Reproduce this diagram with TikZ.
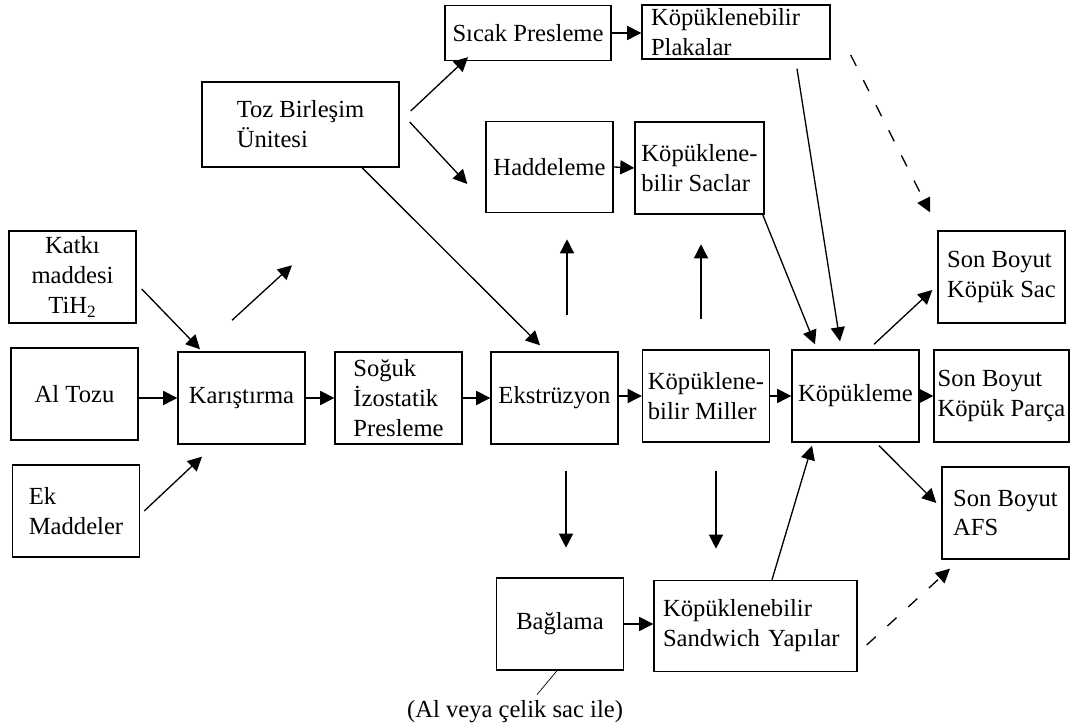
\documentclass[tikz,border=0pt]{standalone}
\usepackage{fontspec}
\setmainfont{Liberation Serif}
\usetikzlibrary{arrows.meta}

\begin{document}
\begin{tikzpicture}[
	box/.style={draw, thick, minimum width=2.54cm, minimum height=1.84cm, align=center, inner sep=2pt, font=\fontsize{14}{17}\selectfont},
	arr/.style={line width=0.75pt, -{Triangle[length=8pt, width=8pt]}},
	dsh/.style={arr, dash pattern=on 7pt off 9pt}]
	\useasboundingbox (0,0) rectangle (21.7,14.56);
	\node[box] (katki) at (1.45,9.02) {Katkı\\maddesi\\TiH\textsubscript{2}};
	\node[box] (altozu) at (1.49,6.68) {Al Tozu};
	\node[box, align=left] (ek) at (1.52,4.34) {Ek\\Maddeler};
	\node[box] (karis) at (4.83,6.60) {Karıştırma};
	\node[box, align=left] (soguk) at (7.97,6.60) {Soğuk\\İzostatik\\Presleme};
	\node[box] (ekstr) at (11.09,6.60) {Ekstrüzyon};
	\node[box, align=left] (miller) at (14.12,6.64) {Köpüklene-\\bilir Miller};
	\node[box] (kopuk) at (17.11,6.64) {Köpükleme};
	\node[box, align=left] (sac) at (20.03,9.02) {Son Boyut\\Köpük Sac};
	\node[box, align=left] (parca) at (20.03,6.64) {Son Boyut\\Köpük Parça};
	\node[box, align=left] (afs) at (20.11,4.30) {Son Boyut\\AFS};
	\node[box, align=left, minimum width=3.94cm, minimum height=1.7cm] (toz) at (6.01,12.07) {Toz Birleşim\\Ünitesi};
	\node[box, minimum width=3.32cm, minimum height=1.1cm] (sicak) at (10.56,13.90) {Sıcak Presleme};
	\node[box, align=left, minimum width=3.76cm, minimum height=1.08cm, inner ysep=0pt, text width=3.4cm] (plaka) at (14.72,13.92) {Köpüklenebilir\\Plakalar};
	\node[box, minimum height=1.82cm] (hadde) at (10.99,11.22) {Haddeleme};
	\node[box, align=left, minimum width=2.58cm] (saclar) at (13.99,11.2) {Köpüklene-\\bilir Saclar};
	\node[box] (baglama) at (11.2,2.08) {Bağlama};
	\node[box, align=left, minimum width=4.06cm, minimum height=1.82cm, text width=3.7cm] (sandwich) at (15.11,2.04) {Köpüklenebilir\\Sandwich Yapılar};
	\node[font=\fontsize{14}{17}\selectfont] (ilave) at (10.3,0.32) {(Al veya çelik sac ile)};

	\draw[arr] ([shift={(0.1,-0.24)}]katki.east) -- ([shift={(-0.83,0.04)}]karis.north);
	\draw[arr] (altozu.east |- karis.west) -- (karis.west);
	\draw[arr] ([xshift=0.08cm]ek.east) -- ([shift={(-0.79,-0.24)}]karis.south);
	\draw[arr] ([shift={(-0.19,0.62)}]karis.north) -- ([shift={(1.01,1.72)}]karis.north);
	\draw[arr] (karis.east) -- (soguk.west);
	\draw[arr] (soguk.east) -- (ekstr.west);
	\draw[arr] ([xshift=1.23cm]toz.south) -- ([shift={(-0.29,0.12)}]ekstr.north);
	\draw[arr] ([shift={(0.22,0.27)}]toz.east) -- ([shift={(-1.2,0.08)}]sicak.south);
	\draw[arr] ([shift={(0.2,0.05)}]toz.east) -- ([shift={(-0.36,-0.34)}]hadde.west);
	\draw[arr] (sicak.east) -- (plaka.west |- sicak.east);
	\draw[arr] (hadde.east) -- (saclar.west);
	\draw[arr] ([shift={(0.25,0.72)}]ekstr.north) -- ([shift={(0.25,2.24)}]ekstr.north);
	\draw[arr] ([shift={(0.23,-0.52)}]ekstr.south) -- ([shift={(0.23,-2.06)}]ekstr.south);
	\draw[arr] (ekstr.east |- miller.west) -- (miller.west);
	\draw[arr] ([shift={(-0.1,0.6)}]miller.north) -- ([shift={(-0.1,2.1)}]miller.north);
	\draw[arr] ([shift={(0.2,-0.56)}]miller.south) -- ([shift={(0.2,-2.12)}]miller.south);
	\draw[arr] (miller.east) -- (kopuk.west);
	\draw[arr] ([xshift=-0.04cm]saclar.south east) -- ([shift={(-0.81,0.1)}]kopuk.north);
	\draw[arr] ([shift={(1.22,-0.18)}]plaka.south) -- ([shift={(-0.31,0.16)}]kopuk.north);
	\draw[dsh] ([shift={(0.4,-0.46)}]plaka.east) -- ([shift={(-1.43,0.36)}]sac.north);
	\draw[arr] ([shift={(0.37,0.1)}]kopuk.north) -- ([shift={(-0.1,-0.26)}]sac.west);
	\draw[arr] (kopuk.east) -- (parca.west);
	\draw[arr] ([shift={(0.47,-0.06)}]kopuk.south) -- ([shift={(-0.1,0.2)}]afs.west);
	\draw[arr] ([xshift=0.33cm]sandwich.north) -- ([shift={(-0.87,-0.06)}]kopuk.south);
	\draw[arr] (baglama.east) -- (sandwich.west |- baglama.east);
	\draw[dsh] ([shift={(0.18,-0.38)}]sandwich.east) -- ([shift={(-1.11,-0.18)}]afs.south);
	\draw[thin] ([xshift=-0.06cm]baglama.south) -- ([xshift=0.44cm]ilave.north);
\end{tikzpicture}
\end{document}
